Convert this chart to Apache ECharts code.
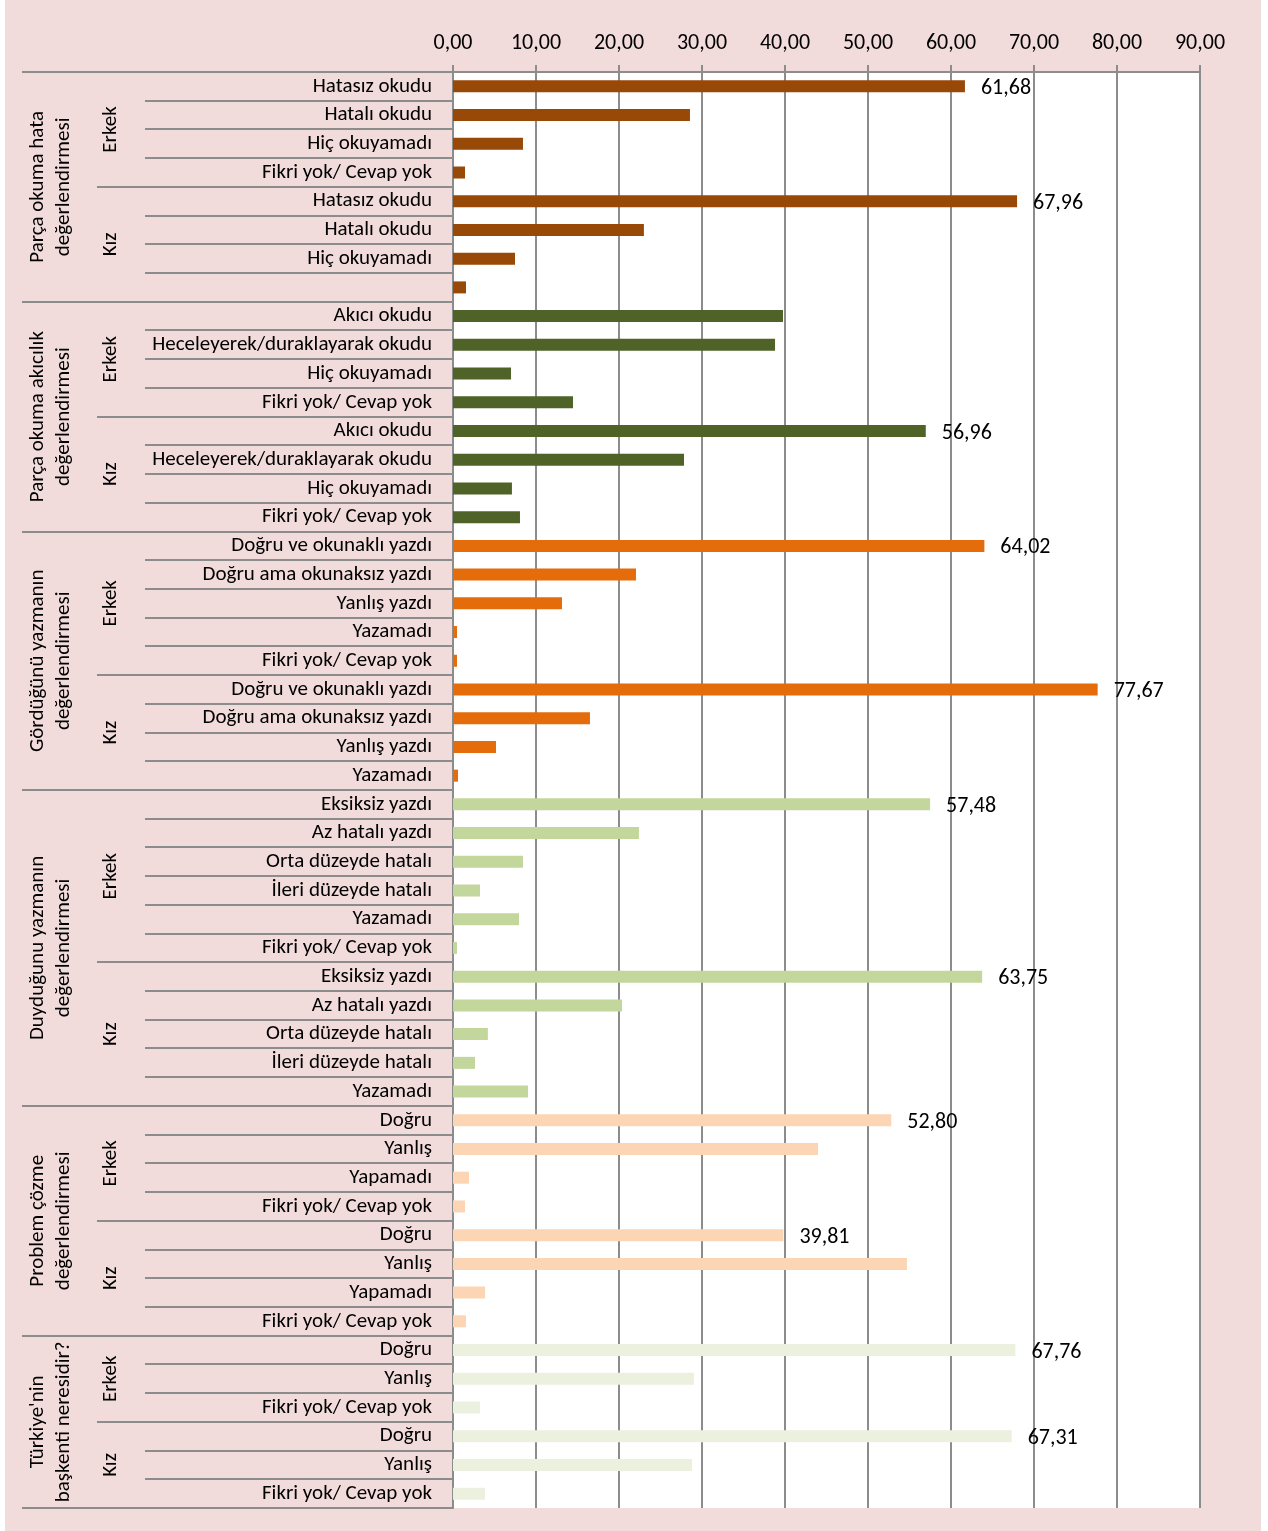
<!DOCTYPE html>
<html>
<head>
<meta charset="utf-8">
<script src="https://cdn.jsdelivr.net/npm/echarts@6/dist/echarts.min.js"></script>
<style>
  html, body { margin: 0; padding: 0; background: #ffffff; }
  #chart { position: absolute; left: 5px; top: 0; width: 1256px; height: 1531px; }
</style>
</head>
<body>
<div id="chart"></div>
<script>
// ---- DATA ----
const groupNames = [
  'Parça okuma hata\ndeğerlendirmesi',
  'Parça okuma akıcılık\ndeğerlendirmesi',
  'Gördüğünü yazmanın\ndeğerlendirmesi',
  'Duyduğunu yazmanın\ndeğerlendirmesi',
  'Problem çözme\ndeğerlendirmesi',
  "Türkiye'nin\nbaşkenti neresidir?"
];
const genderNames = ['Erkek', 'Kız'];
// number of rows per gender within each group
const genderSizes = [[4, 4], [4, 4], [5, 4], [6, 5], [4, 4], [3, 3]];

const categories = [
  // Parça okuma hata
  'Hatasız okudu', 'Hatalı okudu', 'Hiç okuyamadı', 'Fikri yok/ Cevap yok',
  'Hatasız okudu', 'Hatalı okudu', 'Hiç okuyamadı', '',
  // Parça okuma akıcılık
  'Akıcı okudu', 'Heceleyerek/duraklayarak okudu', 'Hiç okuyamadı', 'Fikri yok/ Cevap yok',
  'Akıcı okudu', 'Heceleyerek/duraklayarak okudu', 'Hiç okuyamadı', 'Fikri yok/ Cevap yok',
  // Gördüğünü yazma
  'Doğru ve okunaklı yazdı', 'Doğru ama okunaksız yazdı', 'Yanlış yazdı', 'Yazamadı', 'Fikri yok/ Cevap yok',
  'Doğru ve okunaklı yazdı', 'Doğru ama okunaksız yazdı', 'Yanlış yazdı', 'Yazamadı',
  // Duyduğunu yazma
  'Eksiksiz yazdı', 'Az hatalı yazdı', 'Orta düzeyde hatalı', 'İleri düzeyde hatalı', 'Yazamadı', 'Fikri yok/ Cevap yok',
  'Eksiksiz yazdı', 'Az hatalı yazdı', 'Orta düzeyde hatalı', 'İleri düzeyde hatalı', 'Yazamadı',
  // Problem çözme
  'Doğru', 'Yanlış', 'Yapamadı', 'Fikri yok/ Cevap yok',
  'Doğru', 'Yanlış', 'Yapamadı', 'Fikri yok/ Cevap yok',
  // Başkent
  'Doğru', 'Yanlış', 'Fikri yok/ Cevap yok',
  'Doğru', 'Yanlış', 'Fikri yok/ Cevap yok'
];

const values = [
  61.68, 28.55, 8.43, 1.45,
  67.96, 23.00, 7.47, 1.57,
  39.76, 38.80, 6.99, 14.46,
  56.96, 27.83, 7.10, 8.07,
  64.02, 22.05, 13.13, 0.48, 0.48,
  77.67, 16.50, 5.18, 0.60,
  57.48, 22.40, 8.43, 3.25, 7.95, 0.48,
  63.75, 20.36, 4.20, 2.65, 9.04,
  52.80, 43.98, 1.93, 1.45,
  39.81, 54.70, 3.86, 1.57,
  67.76, 29.04, 3.25,
  67.31, 28.80, 3.86
];

// rows (indexes into categories) whose bar carries a value label in the source
const labeledRows = [0, 4, 12, 16, 21, 25, 31, 36, 40, 44, 47];

const xTicks = { min: 0, max: 90, interval: 10 };

// ---- STYLE ----
const groupColors = ['#984807', '#4f6228', '#e46c0a', '#c3d69b', '#fcd5b5', '#ebf1de'];
const FONT = 'Carlito, Lato, "Open Sans", sans-serif';
const LINE = '#8c8c8c';

// ---- BUILD ----
const rowGroup = [];
const groupBounds = [0];
const genderBounds = [];
let idx = 0;
genderSizes.forEach(function (gs, g) {
  gs.forEach(function (n, s) {
    genderBounds.push([idx, idx + n, g, s]);
    for (let k = 0; k < n; k++) rowGroup.push(g);
    idx += n;
  });
  groupBounds.push(idx);
});

const fmt = function (v) { return v.toFixed(2).replace('.', ','); };

const barData = values.map(function (v, i) {
  return {
    value: v,
    itemStyle: { color: groupColors[rowGroup[i]] },
    label: { show: labeledRows.indexOf(i) >= 0 }
  };
});

const chart = echarts.init(document.getElementById('chart'));
chart.setOption({
  backgroundColor: '#f2dcdb',
  animation: false,
  grid: {
    left: 448, right: 61, top: 72, bottom: 23,
    show: true, backgroundColor: '#ffffff', borderWidth: 0,
    containLabel: false
  },
  xAxis: {
    type: 'value',
    position: 'top',
    min: xTicks.min, max: xTicks.max, interval: xTicks.interval,
    axisLine: { show: true, lineStyle: { color: LINE, width: 2 } },
    axisTick: { show: true, length: 7, lineStyle: { color: LINE, width: 2 } },
    axisLabel: {
      formatter: fmt, fontSize: 22, fontFamily: FONT, color: '#000', margin: 18
    },
    splitLine: { show: true, lineStyle: { color: LINE, width: 2 } }
  },
  yAxis: {
    type: 'category',
    inverse: true,
    data: categories,
    axisLine: { show: true, lineStyle: { color: LINE, width: 2 } },
    axisTick: { show: false },
    axisLabel: {
      interval: 0, margin: 21, fontSize: 21, fontFamily: FONT, color: '#000',
      padding: [3, 0, 0, 0]
    },
    splitLine: { show: false }
  },
  series: [
    {
      type: 'bar',
      data: barData,
      barWidth: 12,
      label: {
        position: 'right', distance: 16, offset: [0, 2],
        formatter: function (p) { return fmt(p.value); },
        fontSize: 22, fontFamily: FONT, color: '#000'
      },
      silent: true
    },
    {
      type: 'custom',
      silent: true,
      clip: false,
      z: 5,
      data: [[0, 0]],
      encode: { x: 0, y: 1 },
      renderItem: function (params, api) {
        const cs = params.coordSys;
        const c0 = api.coord([0, 0])[1];
        const step = api.coord([0, 1])[1] - c0;
        const yAt = function (b) { return c0 - step / 2 + b * step; };
        const xRight = cs.x;
        const children = [];
        const n = categories.length;
        const gStart = {};
        genderBounds.forEach(function (gb) { gStart[gb[0]] = true; });
        const grpSet = {};
        groupBounds.forEach(function (b) { grpSet[b] = true; });
        for (let b = 0; b <= n; b++) {
          let x0;
          if (grpSet[b]) x0 = xRight - 431;
          else if (gStart[b]) x0 = xRight - 356;
          else x0 = xRight - 308;
          const y = Math.round(yAt(b));
          children.push({
            type: 'line',
            shape: { x1: x0, y1: y, x2: xRight, y2: y },
            style: { stroke: LINE, lineWidth: 2 }
          });
        }
        // group labels
        for (let g = 0; g < groupNames.length; g++) {
          const yc = (yAt(groupBounds[g]) + yAt(groupBounds[g + 1])) / 2;
          children.push({
            type: 'text',
            x: xRight - 402, y: yc,
            rotation: Math.PI / 2,
            style: {
              text: groupNames[g], align: 'center', verticalAlign: 'middle',
              fontSize: 21, fontFamily: FONT, fill: '#000', lineHeight: 26
            }
          });
        }
        // gender labels
        genderBounds.forEach(function (gb) {
          const yc = (yAt(gb[0]) + yAt(gb[1])) / 2;
          children.push({
            type: 'text',
            x: xRight - 342, y: yc,
            rotation: Math.PI / 2,
            style: {
              text: genderNames[gb[3]], align: 'center', verticalAlign: 'middle',
              fontSize: 21, fontFamily: FONT, fill: '#000'
            }
          });
        });
        return { type: 'group', children: children };
      }
    }
  ]
});
</script>
</body>
</html>
